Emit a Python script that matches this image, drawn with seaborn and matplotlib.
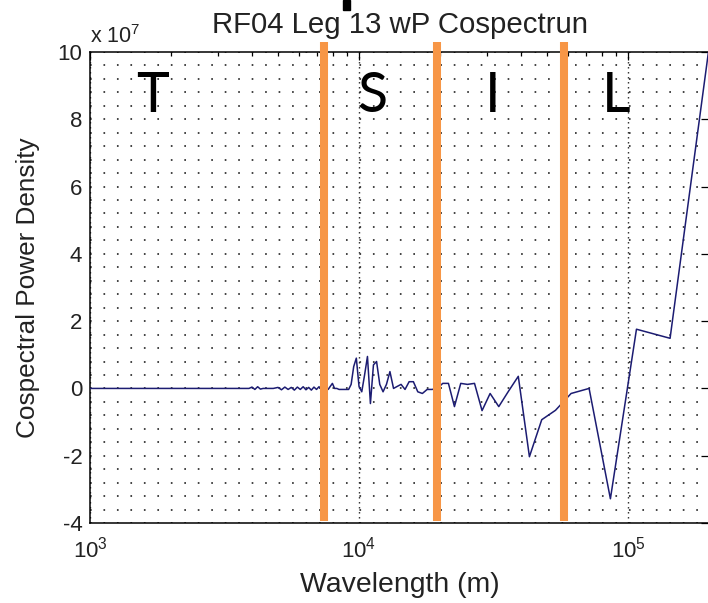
import matplotlib
matplotlib.use("Agg")
import matplotlib.pyplot as plt
import matplotlib.ticker as mticker
from matplotlib.patches import Rectangle
import numpy as np
import pandas as pd
import seaborn as sns

# ---------------- data ----------------
# wavelength in metres, cospectral power density in units of 1e7
wavelength = [
    1000, 2000, 3000, 3900,
    4000, 4100, 4200, 4300, 4400, 4600, 4800, 5000, 5150, 5300, 5450,
    5600, 5750, 5900, 6050, 6200, 6350, 6500, 6650, 6800, 6950, 7100, 7250,
    7414, 7679, 7818, 7963, 8113, 8269, 8431, 8600, 8776, 8958, 9149, 9348,
    9556, 9773, 10000, 10238, 10488, 10750, 11026, 11316, 11622, 11944,
    12286, 12647, 13030, 13438, 13871, 14333, 14828, 15357, 15926, 16538,
    17200, 17917, 18696, 19545, 20476, 21500, 22632, 23889, 25294, 26875,
    28667, 30714, 33077, 35833, 39091, 43000, 47778, 53750, 61429, 71667,
    86000, 107500, 143333, 215000,
]
density = [
    0.0, 0.0, 0.0, 0.0,
    0.04, -0.03, 0.05, -0.02, 0.0, 0.0, 0.0, 0.03, -0.04, 0.04, -0.03,
    0.03, -0.05, 0.04, -0.03, 0.05, -0.04, 0.03, -0.05, 0.04, -0.03, 0.05, -0.02,
    -0.03, -0.03, 0.06, 0.15, 0.0, 0.0, -0.03, -0.03, -0.03, -0.03, -0.03, 0.12,
    0.65, 0.9, 0.06, -0.1, 0.4, 0.95, -0.45, 0.7, 0.8, 0.12,
    -0.1, 0.12, 0.5, 0.0, 0.06, 0.12, -0.03, 0.2, 0.2, -0.1,
    -0.15, -0.03, -0.03, 0.0, 0.15, 0.15, -0.54, 0.15, 0.12, 0.15,
    -0.66, -0.15, -0.54, -0.1, 0.36, -2.03, -0.93, -0.65, -0.15, 0.0,
    -3.28, 1.76, 1.49, 12.0,
]
region_bounds = [7400, 19500, 58000]
region_labels = ["T", "S", "I", "L"]
region_label_x = [1710, 11200, 31500, 90200]
y_ticks = [-4, -2, 0, 2, 4, 6, 8, 10]

df = pd.DataFrame({"wavelength": wavelength, "density": density})

# ---------------- style ----------------
sns.set_style("white")
plt.rcParams["font.family"] = ["Liberation Sans", "DejaVu Sans"]
plt.rcParams["mathtext.fontset"] = "custom"
plt.rcParams["mathtext.rm"] = "Liberation Sans"
plt.rcParams["mathtext.it"] = "Liberation Sans"
plt.rcParams["mathtext.bf"] = "Liberation Sans"
plt.rcParams["axes.unicode_minus"] = False
plt.rcParams["lines.scale_dashes"] = False

fig = plt.figure(figsize=(7.08, 6.03), dpi=100)
fig.patch.set_facecolor("white")
ax = fig.add_axes([90 / 708, 1 - 523 / 603, (709 - 90) / 708, (523 - 52) / 603])
ax.set_facecolor("white")

sns.lineplot(data=df, x="wavelength", y="density", ax=ax,
             color="#1c1c72", linewidth=1.1, zorder=3)

ax.set_xscale("log")
ax.set_xlim(1e3, 2e5)
ax.set_ylim(-4, 10)
ax.set_yticks(y_ticks)
ax.yaxis.set_major_formatter(mticker.FormatStrFormatter("%d"))
ax.yaxis.set_minor_locator(mticker.MultipleLocator(0.4))
ax.xaxis.set_major_locator(mticker.LogLocator(base=10, numticks=10))
ax.xaxis.set_minor_locator(mticker.LogLocator(base=10, subs=np.arange(2, 10), numticks=20))
ax.xaxis.set_minor_formatter(mticker.NullFormatter())

# grid
ax.grid(True, which="both", axis="y", color="#222222", linewidth=1.2,
        linestyle=(0, (1.2, 8.5)))
ax.grid(True, which="major", axis="x", color="#222222", linewidth=1.0,
        linestyle=(0, (1.0, 2.6)))
ax.set_axisbelow(True)

# ticks
ax.tick_params(axis="both", which="both", direction="in", top=True, right=True,
               colors="black", width=0.9)
ax.tick_params(axis="both", which="major", length=6)
ax.tick_params(axis="x", which="minor", length=3)
ax.tick_params(axis="y", which="minor", length=0)
ax.tick_params(axis="y", which="major", labelsize=16, pad=5.5, labelcolor="#222222")
ax.tick_params(axis="x", which="major", labelsize=16, pad=10, labelcolor="#222222")

for s in ax.spines.values():
    s.set_color("black")
    s.set_linewidth(1.1)

# labels
ax.set_title("RF04 Leg 13 wP Cospectrun", fontsize=21.2, pad=13.5, color="#222222")
ax.set_xlabel("Wavelength (m)", fontsize=20.4, color="#222222")
ax.xaxis.set_label_coords(0.5, -0.103)
ax.set_ylabel("Cospectral Power Density", fontsize=18.8, color="#222222")
ax.yaxis.set_label_coords(-0.081, 0.5)
ax.text(0.0, 1.019, r"x $10^{7}$", transform=ax.transAxes, fontsize=15.5,
        ha="left", va="baseline", color="#222222")

# region boundaries
ax.vlines(region_bounds, -3.94, 10.3, colors="#F79646", linewidth=5.8,
          zorder=5, clip_on=False)

for lx, lab in zip(region_label_x, region_labels):
    ax.text(lx, 8.21, lab, fontsize=40, family="Lato", ha="center",
            va="baseline", color="black", zorder=6)

# cut-off glyph at the very top of the picture
fig.patches.append(Rectangle((343 / 708, 1 - 10 / 603), 7 / 708, 10 / 603,
                             transform=fig.transFigure, color="black"))

fig.savefig("out.png", dpi=100)
